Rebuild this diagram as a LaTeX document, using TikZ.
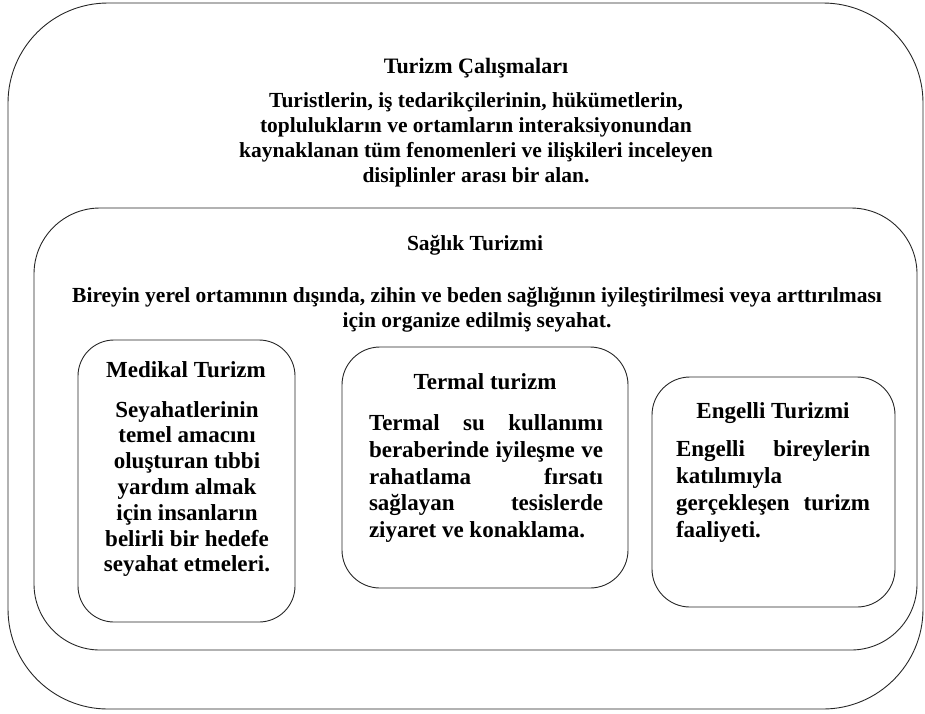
\documentclass[tikz,border=0pt]{standalone}
\usepackage{fontspec}
\setmainfont{Liberation Serif}
\begin{document}
\begin{tikzpicture}[x=1pt,y=-1pt,
  box/.style={draw=black!85, line width=0.9pt, inner sep=0pt, fill=none},
  toptxt/.style={font=\bfseries\fontsize{21.5}{25}\selectfont, align=center, inner sep=0pt},
  boxtitle/.style={font=\bfseries\fontsize{23}{26.5}\selectfont, align=center, inner sep=0pt},
  boxbody/.style={font=\bfseries\fontsize{23}{25.8}\selectfont, align=center, inner sep=0pt},
  jbody/.style={font=\bfseries\fontsize{23}{26.7}\selectfont, align=left, inner sep=0pt}]
\useasboundingbox (0,0) rectangle (925,713);
% boxes
\node[box, rounded corners=100pt, minimum width=915pt, minimum height=706pt] (outer) at (465.5,356) {};
\node[box, rounded corners=66pt, minimum width=883pt, minimum height=442pt] (inner) at (475.5,429) {};
\node[box, rounded corners=36pt, minimum width=217pt, minimum height=282pt] (medbox) at (186.5,481) {};
\node[box, rounded corners=38pt, minimum width=286pt, minimum height=241pt] (terbox) at (485,467.5) {};
\node[box, rounded corners=38pt, minimum width=243pt, minimum height=230pt] (engbox) at (773.5,492) {};
% outer texts
\node[toptxt, font=\bfseries\fontsize{22}{25}\selectfont] (t1) at (476,68) {Turizm Çalışmaları};
\node[toptxt] (p1) at (476,140) {Turistlerin, iş tedarikçilerinin, hükümetlerin,\\toplulukların ve ortamların interaksiyonundan\\kaynaklanan tüm fenomenleri ve ilişkileri inceleyen\\disiplinler arası bir alan.};
% inner texts
\node[toptxt] (t2) at (475,245) {Sağlık Turizmi};
\node[toptxt] (p2) at (477,310) {Bireyin yerel ortamının dışında, zihin ve beden sağlığının iyileştirilmesi veya arttırılması\\için organize edilmiş seyahat.};
% Medikal
\node[boxtitle] (mt) at (186,370) {Medikal Turizm};
\node[boxbody] (mb) at (187,489) {Seyahatlerinin\\temel amacını\\oluşturan tıbbi\\yardım almak\\için insanların\\belirli bir hedefe\\seyahat etmeleri.};
% Termal
\node[boxtitle] (tt) at (485,382) {Termal turizm};
\node[jbody] (tb) at (486,478.5) {\makebox[234pt][s]{Termal su kullanımı}\\\makebox[234pt][s]{beraberinde iyileşme ve}\\\makebox[234pt][s]{rahatlama fırsatı}\\\makebox[234pt][s]{sağlayan tesislerde}\\\makebox[234pt][l]{ziyaret ve konaklama.}};
% Engelli
\node[boxtitle] (et) at (773,413) {Engelli Turizmi};
\node[jbody] (eb) at (773,491.5) {\makebox[194pt][s]{Engelli bireylerin}\\\makebox[194pt][l]{katılımıyla}\\\makebox[194pt][s]{gerçekleşen turizm}\\\makebox[194pt][l]{faaliyeti.}};
\end{tikzpicture}
\end{document}
